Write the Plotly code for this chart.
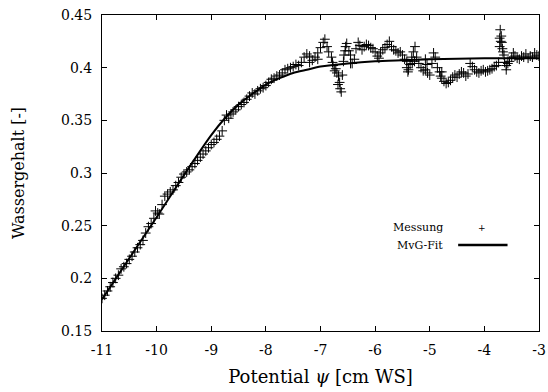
import plotly.graph_objects as go

# Messung (measurement) - potential psi [cm WS] and water content
mess_psi = [
    -11.00, -10.95, -10.90, -10.85, -10.80, -10.75, -10.70, -10.65, -10.60, -10.55,
    -10.50, -10.45, -10.40, -10.35, -10.30, -10.25, -10.20, -10.15, -10.10, -10.05,
    -10.02, -9.98, -9.95, -9.90, -9.85, -9.80, -9.75, -9.70, -9.65, -9.60,
    -9.55, -9.50, -9.45, -9.40, -9.35, -9.30, -9.25, -9.20, -9.15, -9.10,
    -9.05, -9.00, -8.95, -8.90, -8.85, -8.80, -8.76, -8.72, -8.68, -8.64,
    -8.60, -8.55, -8.50, -8.45, -8.40, -8.35, -8.30, -8.25, -8.20, -8.15,
    -8.10, -8.05, -8.00, -7.95, -7.90, -7.85, -7.80, -7.75, -7.70, -7.65,
    -7.60, -7.55, -7.50, -7.45, -7.40, -7.35, -7.30, -7.25, -7.20, -7.15,
    -7.10, -7.05, -7.00, -6.95, -6.92, -6.88, -6.85, -6.80, -6.77, -6.74,
    -6.70, -6.67, -6.64, -6.62, -6.60, -6.57, -6.54, -6.52, -6.48, -6.45,
    -6.42, -6.38, -6.35, -6.31, -6.28, -6.24, -6.20, -6.16, -6.12, -6.08,
    -6.04, -6.00, -5.96, -5.93, -5.90, -5.86, -5.82, -5.78, -5.74, -5.70,
    -5.66, -5.62, -5.58, -5.54, -5.50, -5.46, -5.42, -5.39, -5.36, -5.33,
    -5.30, -5.27, -5.24, -5.20, -5.16, -5.12, -5.08, -5.04, -5.00, -4.96,
    -4.93, -4.90, -4.86, -4.82, -4.78, -4.74, -4.70, -4.66, -4.62, -4.58,
    -4.54, -4.50, -4.46, -4.42, -4.38, -4.34, -4.30, -4.26, -4.22, -4.18,
    -4.14, -4.10, -4.06, -4.02, -3.98, -3.94, -3.90, -3.86, -3.82, -3.78,
    -3.74, -3.72, -3.71, -3.69, -3.68, -3.66, -3.63, -3.60, -3.57, -3.54,
    -3.50, -3.47, -3.44, -3.40, -3.36, -3.32, -3.28, -3.24, -3.20, -3.16,
    -3.12, -3.08, -3.04, -3.00,
    # scattered single readings
    -7.20, -7.05, -6.78, -6.72, -6.68, -6.65, -6.58, -6.55, -6.45, -5.42,
    -5.40, -5.32, -5.28, -5.08, -5.05, -4.80, -4.78, -3.72, -3.70, -3.67,
    -3.64, -3.60,
]
mess_theta = [
    0.181, 0.184, 0.188, 0.192, 0.196, 0.200, 0.203, 0.209, 0.211, 0.214,
    0.218, 0.221, 0.225, 0.229, 0.232, 0.236, 0.243, 0.249, 0.252, 0.257,
    0.264, 0.262, 0.261, 0.270, 0.278, 0.280, 0.282, 0.284, 0.288, 0.291,
    0.296, 0.299, 0.301, 0.303, 0.306, 0.309, 0.312, 0.315, 0.318, 0.321,
    0.324, 0.327, 0.329, 0.332, 0.335, 0.340, 0.350, 0.355, 0.352, 0.356,
    0.358, 0.360, 0.363, 0.365, 0.367, 0.370, 0.373, 0.376, 0.375, 0.378,
    0.380, 0.381, 0.383, 0.386, 0.389, 0.390, 0.392, 0.393, 0.395, 0.398,
    0.399, 0.400, 0.401, 0.403, 0.402, 0.405, 0.410, 0.413, 0.411, 0.407,
    0.410, 0.414, 0.419, 0.424, 0.427, 0.420, 0.415, 0.410, 0.402, 0.397,
    0.395, 0.392, 0.380, 0.377, 0.393, 0.412, 0.420, 0.423, 0.416, 0.412,
    0.404, 0.408, 0.418, 0.424, 0.421, 0.417, 0.420, 0.422, 0.421, 0.419,
    0.418, 0.415, 0.411, 0.409, 0.414, 0.417, 0.419, 0.422, 0.425, 0.420,
    0.417, 0.416, 0.414, 0.415, 0.412, 0.408, 0.406, 0.398, 0.403, 0.410,
    0.415, 0.420, 0.410, 0.404, 0.400, 0.397, 0.398, 0.395, 0.393, 0.404,
    0.414, 0.410, 0.400, 0.396, 0.390, 0.387, 0.385, 0.386, 0.388, 0.391,
    0.393, 0.391, 0.394, 0.396, 0.395, 0.392, 0.394, 0.404, 0.401, 0.398,
    0.396, 0.395, 0.397, 0.398, 0.396, 0.397, 0.398, 0.399, 0.401, 0.402,
    0.405, 0.420, 0.436, 0.430, 0.424, 0.415, 0.405, 0.402, 0.404, 0.406,
    0.410, 0.414, 0.411, 0.409, 0.408, 0.411, 0.410, 0.413, 0.409, 0.411,
    0.410, 0.414, 0.412, 0.411,
    0.405, 0.408, 0.405, 0.399, 0.384, 0.386, 0.406, 0.416, 0.404, 0.400,
    0.396, 0.404, 0.406, 0.408, 0.403, 0.392, 0.396, 0.428, 0.425, 0.418,
    0.412, 0.398,
]

# MvG-Fit curve
fit_psi = [-11.0, -10.5, -10.0, -9.5, -9.0, -8.75, -8.5, -8.25, -8.0, -7.75,
           -7.5, -7.25, -7.0, -6.5, -6.0, -5.5, -5.0, -4.0, -3.0]
fit_theta = [0.180, 0.219, 0.258, 0.298, 0.336, 0.352, 0.365, 0.375, 0.384, 0.390,
             0.395, 0.398, 0.401, 0.404, 0.406, 0.407, 0.408, 0.409, 0.409]

x_ticks = [-11, -10, -9, -8, -7, -6, -5, -4, -3]
x_tick_text = ["-11", "-10", "-9", "-8", "-7", "-6", "-5", "-4", "-3"]
y_ticks = [0.15, 0.2, 0.25, 0.3, 0.35, 0.4, 0.45]
y_tick_text = ["0.15", "0.2", "0.25", "0.3", "0.35", "0.4", "0.45"]

legend_names = ["Messung", "MvG-Fit"]

SERIF = "DejaVu Serif"

fig = go.Figure()
fig.add_trace(go.Scatter(
    x=mess_psi, y=mess_theta, mode="markers", name=legend_names[0],
    marker=dict(symbol="cross-thin", size=7, line=dict(color="black", width=1), color="black"),
    showlegend=False,
))
fig.add_trace(go.Scatter(
    x=fit_psi, y=fit_theta, mode="lines", name=legend_names[1],
    line=dict(color="black", width=2, shape="spline", smoothing=0.6),
    showlegend=False,
))

axis_common = dict(
    showline=True, linecolor="black", linewidth=1, mirror="allticks",
    ticks="inside", ticklen=5, tickcolor="black", tickwidth=1,
    showgrid=False, zeroline=False, automargin=False,
    tickfont=dict(family=SERIF, size=14, color="black"),
)

fig.update_xaxes(range=[-11, -3], tickvals=x_ticks, ticktext=x_tick_text,
                 title=dict(text="Potential <i>ψ</i> [cm WS]", font=dict(family=SERIF, size=18, color="black"), standoff=13),
                 ticklabelstandoff=6, **axis_common)
fig.update_yaxes(range=[0.15, 0.45], tickvals=y_ticks, ticktext=y_tick_text,
                 title=dict(text="Wassergehalt [-]", font=dict(family=SERIF, size=16, color="black"), standoff=32),
                 ticklabelstandoff=6, **axis_common)

# gnuplot-style key: text on the left, sample on the right
key_font = dict(family=SERIF, size=11, color="black")
fig.add_annotation(xref="paper", yref="paper", x=0.785, y=0.327, text=legend_names[0],
                   showarrow=False, xanchor="right", yanchor="middle", font=key_font)
fig.add_annotation(xref="paper", yref="paper", x=0.785, y=0.272, text=legend_names[1],
                   showarrow=False, xanchor="right", yanchor="middle", font=key_font)
fig.add_annotation(xref="paper", yref="paper", x=0.87, y=0.327, text="+",
                   showarrow=False, xanchor="center", yanchor="middle",
                   font=dict(family=SERIF, size=9, color="black"))
fig.add_shape(type="line", xref="paper", yref="paper", x0=0.815, x1=0.928, y0=0.272, y1=0.272,
              line=dict(color="black", width=2.5))

fig.update_layout(
    width=548, height=392,
    margin=dict(l=102, r=9, t=15, b=61),
    paper_bgcolor="white", plot_bgcolor="white",
    font=dict(family=SERIF, color="black"),
)

fig.write_html("out.html", config={"displayModeBar": False},
               post_script="document.body.style.margin='0';")
